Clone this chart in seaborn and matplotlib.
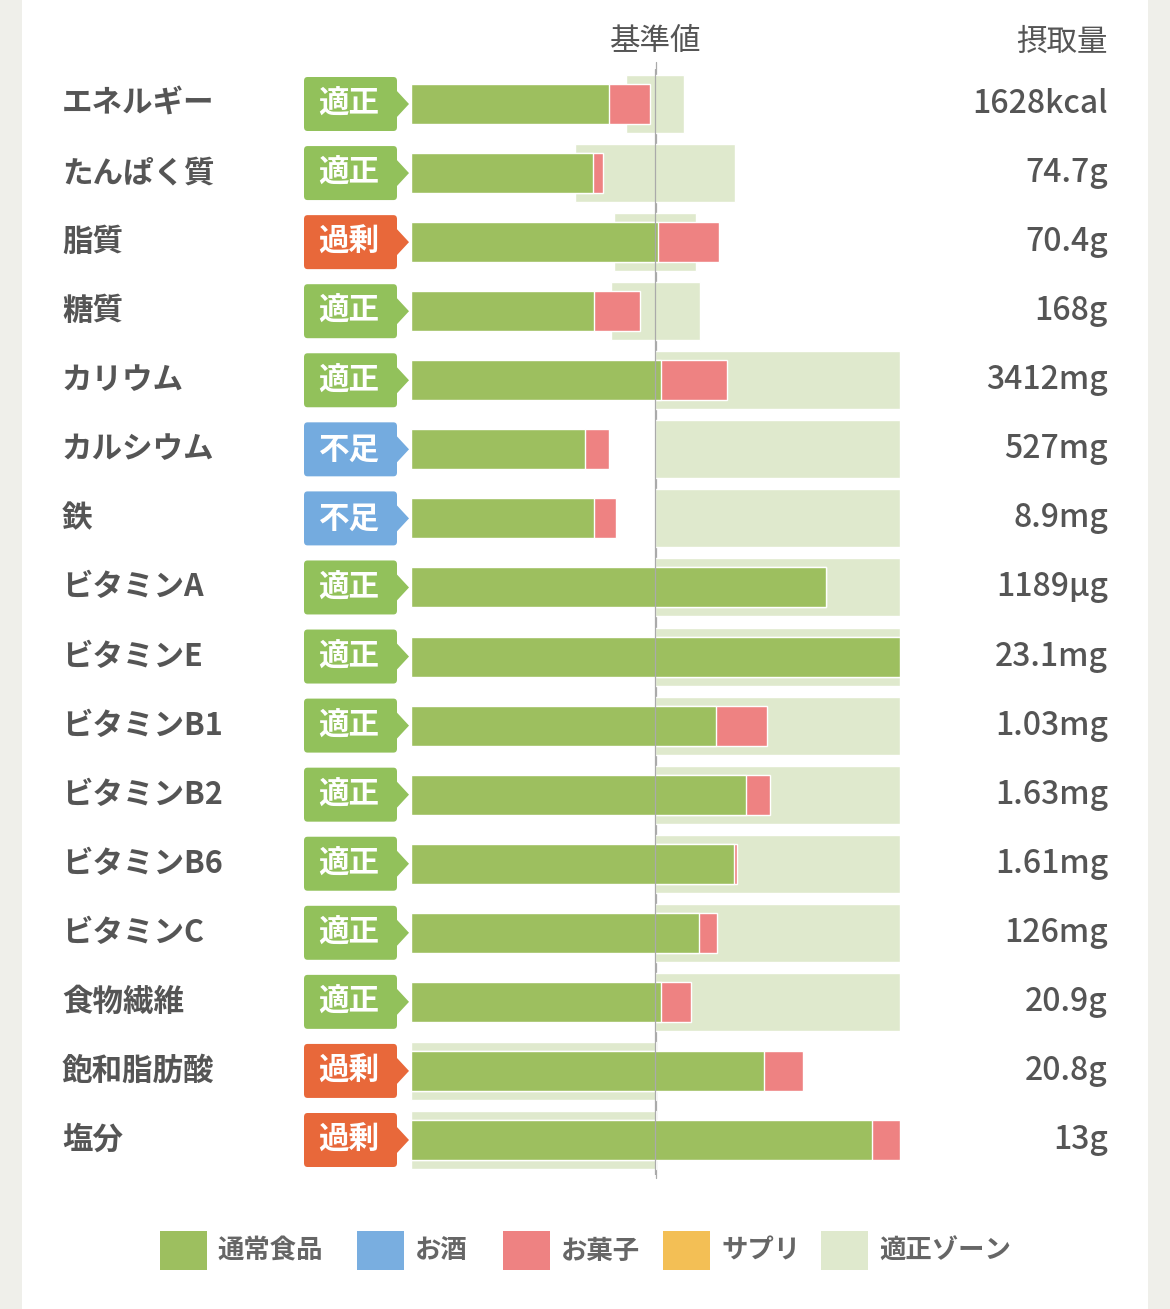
import numpy as np
import pandas as pd
import matplotlib
matplotlib.use("Agg")
import matplotlib.pyplot as plt
import seaborn as sns
from matplotlib.patches import Rectangle, Polygon, FancyBboxPatch

sns.set_theme(style="white")
plt.rcParams['font.family'] = ['Noto Sans CJK JP', 'DejaVu Sans']

# データ(基準値=100%、表示範囲0〜200%)
nutrients = ['エネルギー', 'たんぱく質', '脂質', '糖質', 'カリウム', 'カルシウム', '鉄',
             'ビタミンA', 'ビタミンE', 'ビタミンB1', 'ビタミンB2', 'ビタミンB6',
             'ビタミンC', '食物繊維', '飽和脂肪酸', '塩分']
status = ['適正', '適正', '過剰', '適正', '適正', '不足', '不足', '適正', '適正',
          '適正', '適正', '適正', '適正', '適正', '過剰', '過剰']
food = [80.8, 74.3, 101.2, 74.7, 102.4, 71.0, 74.7, 169.8, 200.0,
        124.9, 137.1, 132.2, 117.6, 102.4, 144.5, 188.6]
total = [97.6, 78.4, 126.1, 93.5, 129.4, 80.8, 83.7, 169.8, 200.0,
         145.7, 146.9, 133.5, 125.3, 114.7, 160.4, 200.0]
zone_lo = [87.8, 66.9, 82.9, 82.0, 100, 100, 100, 100, 100, 100, 100, 100, 100, 100, 0, 0]
zone_hi = [111.8, 132.7, 116.7, 118.0, 200, 200, 200, 200, 200, 200, 200, 200, 200, 200, 100, 100]
intake = ['1628kcal', '74.7g', '70.4g', '168g', '3412mg', '527mg', '8.9mg', '1189μg',
          '23.1mg', '1.03mg', '1.63mg', '1.61mg', '126mg', '20.9g', '20.8g', '13g']
legend_labels = ['通常食品', 'お酒', 'お菓子', 'サプリ', '適正ゾーン']

C_FOOD, C_SAKE, C_SNACK, C_SUP, C_ZONE = '#9dbf5f', '#79aee0', '#ee8282', '#f3bf55', '#dfe9cd'
badge_col = {'適正': '#92c15b', '過剰': '#e8683a', '不足': '#74abdf'}
TXT = '#555555'

df = pd.DataFrame({'name': nutrients, 'food': food, 'total': total})

W, H = 1170, 1309
fig = plt.figure(figsize=(W / 100, H / 100), dpi=100)
fig.patch.set_facecolor('#efefea')
fig.patches.append(Rectangle((22 / W, 0), (1148 - 22) / W, 1, transform=fig.transFigure,
                             facecolor='white', edgecolor='none', zorder=-5))

def fx(x):
    return x / W

def fy(y):
    return 1 - y / H

pitch = (1140 - 104) / 15
top = 104 - pitch / 2
ax = fig.add_axes([fx(411), fy(top + 16 * pitch), 489 / W, 16 * pitch / H])
ax.set_zorder(3)
ax.set_facecolor('none')

ax.barh(np.arange(16), np.array(zone_hi) - np.array(zone_lo), left=zone_lo,
        height=0.84, color=C_ZONE, zorder=1)
sns.barplot(data=df, y='name', x='total', orient='h', color=C_SNACK, width=0.58,
            saturation=1, ax=ax, zorder=2)
sns.barplot(data=df, y='name', x='food', orient='h', color=C_FOOD, width=0.58,
            saturation=1, ax=ax, zorder=3)
ax.axvline(100, color='#aaaaaa', lw=0.9, zorder=5)
ax.set_xlim(0, 200)
ax.set_ylim(15.5, -0.5)
ax.axis('off')
fig.add_artist(plt.Line2D([fx(656)] * 2, [fy(62), fy(1178)], color='#aaaaaa', lw=0.9,
                          transform=fig.transFigure, zorder=1))

for i, (n, s, v) in enumerate(zip(nutrients, status, intake)):
    yc = 104 + i * pitch
    fig.text(fx(62), fy(yc), n, fontsize=22, fontweight='bold', color=TXT, va='center', ha='left')
    fig.text(fx(1108), fy(yc), v, fontsize=23, fontweight='medium', color=TXT, va='center', ha='right')
    col = badge_col[s]
    fig.patches.append(FancyBboxPatch((fx(304), fy(yc + 27)), fx(93), 54 / H,
                                      boxstyle='round,pad=0,rounding_size=0.003',
                                      transform=fig.transFigure, facecolor=col, edgecolor='none'))
    fig.patches.append(Polygon([(fx(396), fy(yc - 14)), (fx(409), fy(yc)), (fx(396), fy(yc + 14))],
                               closed=True, transform=fig.transFigure, facecolor=col, edgecolor='none'))
    fig.text(fx(349), fy(yc), s, fontsize=22, fontweight='bold', color='white', va='center', ha='center')

fig.text(fx(656), fy(42), '基準値', fontsize=22, color=TXT, ha='center', va='center')
fig.text(fx(1108), fy(42), '摂取量', fontsize=22, color=TXT, ha='right', va='center')

lx = [160, 357, 503, 663, 821]
for x, lab, c in zip(lx, legend_labels, [C_FOOD, C_SAKE, C_SNACK, C_SUP, C_ZONE]):
    fig.patches.append(Rectangle((fx(x), fy(1270)), fx(47), 39 / H, transform=fig.transFigure,
                                 facecolor=c, edgecolor='none'))
    fig.text(fx(x + 58), fy(1251), lab, fontsize=19, fontweight='bold', color='#666666',
             ha='left', va='center')

fig.savefig('out.png', dpi=100, facecolor=fig.get_facecolor())
